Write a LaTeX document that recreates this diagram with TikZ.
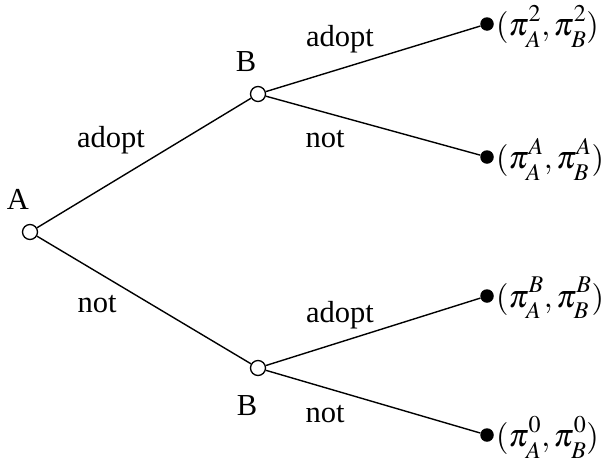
\documentclass[tikz,border=0pt]{standalone}
\usepackage{mathptmx}
\usepackage[no-math]{fontspec}
\setmainfont{Liberation Serif}
\DeclareMathSizes{32}{32}{24}{18}
\newcommand\payoff[2]{\pi^{\raisebox{3pt}{$\scriptstyle #1$}}_{\raisebox{-3.5pt}{$\scriptstyle #2$}}}
\begin{document}
\begin{tikzpicture}[x=1pt,y=-1pt,
  every node/.style={font=\fontsize{30.5}{34}\selectfont},
  dec/.style={circle,draw,fill=white,line width=1.3pt,minimum size=15pt,inner sep=0pt},
  term/.style={circle,fill=black,minimum size=13.5pt,inner sep=0pt},
  edge/.style={line width=1.4pt},
  lbl/.style={inner sep=0pt},
  pay/.style={inner sep=0pt,anchor=west,xshift=2pt,yshift=-2pt,font=\fontsize{32}{36}\selectfont}]
\useasboundingbox (0,0) rectangle (611,461);
\node[term] (t1) at (487,24) {};
\node[term] (t2) at (487,157) {};
\node[term] (t3) at (487,296) {};
\node[term] (t4) at (487,435) {};
\node[dec] (a) at (30,232) {};
\node[dec] (b1) at (258,94) {};
\node[dec] (b2) at (258,368) {};
\draw[edge] (a) -- (b1);
\draw[edge] (a) -- (b2);
\draw[edge] (b1) -- (t1);
\draw[edge] (b1) -- (t2);
\draw[edge] (b2) -- (t3);
\draw[edge] (b2) -- (t4);
\node[lbl] (la) at (18,199) {A};
\node[lbl] (lb1) at (246,62) {B};
\node[lbl] (lb2) at (247,406) {B};
\node[lbl] (e1) at (111,140) {adopt};
\node[lbl] (e2) at (97,304) {not};
\node[lbl] (e3) at (340,39) {adopt};
\node[lbl] (e4) at (325,139) {not};
\node[lbl] (e5) at (340,315) {adopt};
\node[lbl] (e6) at (325,414) {not};
\node[pay] (p1) at (t1.east) {$(\payoff{2}{A},\payoff{2}{B})$};
\node[pay] (p2) at (t2.east) {$(\payoff{A}{A},\payoff{A}{B})$};
\node[pay] (p3) at (t3.east) {$(\payoff{B}{A},\payoff{B}{B})$};
\node[pay] (p4) at (t4.east) {$(\payoff{0}{A},\payoff{0}{B})$};
\end{tikzpicture}
\end{document}
